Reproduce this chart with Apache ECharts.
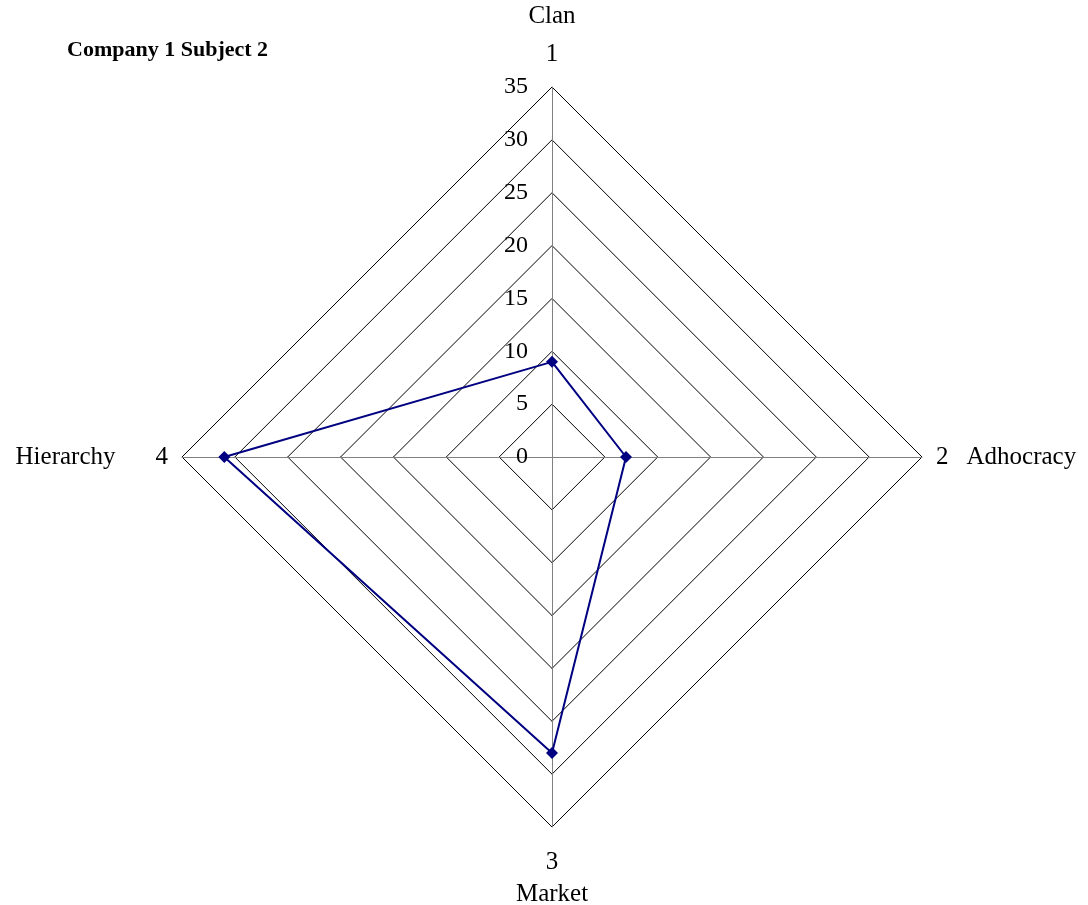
<!DOCTYPE html>
<html>
<head>
<meta charset="utf-8">
<script src="https://cdn.jsdelivr.net/npm/echarts@6/dist/echarts.min.js"></script>
<style>
  html, body { margin: 0; padding: 0; background: #fff; }
  #chart { width: 1088px; height: 905px; }
</style>
</head>
<body>
<div id="chart"></div>
<script>
// data (clockwise from the top)
var categories = ["Clan", "Adhocracy", "Market", "Hierarchy"];
var axisNumbers = ["1", "2", "3", "4"];
var values = [9, 7, 28, 31];
var axisMax = 35;
var seriesName = "Company 1 Subject 2";

var font = "Liberation Serif";

// echarts lays radar axes out counter-clockwise, so walk the list backwards after the first
var order = [0, 3, 2, 1];

var indicators = order.map(function (i) {
  var ind = { name: categories[i], max: axisMax, min: 0 };
  // only the upward axis carries the 0..35 labels
  if (i !== 0) {
    ind.axisLabel = { show: false };
  }
  return ind;
});
var orderedValues = order.map(function (i) {
  return values[i];
});

var chart = echarts.init(document.getElementById("chart"));
var option = {
  backgroundColor: "#fff",
  animation: false,
  title: {
    text: seriesName,
    left: 62,
    top: 34,
    textStyle: {
      fontFamily: font,
      fontWeight: "bold",
      fontSize: 22,
      color: "#000",
    },
  },
  radar: {
    center: [552, 457],
    radius: 370,
    startAngle: 90,
    shape: "polygon",
    splitNumber: 7,
    indicator: indicators,
    nameGap: 14,
    axisName: {
      color: "#000",
      fontFamily: font,
      fontSize: 25,
      formatter: function (name) {
        var i = categories.indexOf(name);
        var n = axisNumbers[i];
        if (i === 0) return "{n|" + name + "}\n{v|" + n + "}";
        if (i === 1) return "{v|" + n + "}{gap|}{n|" + name + "}";
        if (i === 2) return "{v2|" + n + "}\n{n|" + name + "}";
        return "{n|" + name + "}{gap2|}{v|" + n + "}";
      },
      rich: {
        n: { fontFamily: font, fontSize: 25, color: "#000", lineHeight: 38 },
        v: { fontFamily: font, fontSize: 25, color: "#000", lineHeight: 38 },
        v2: { fontFamily: font, fontSize: 25, color: "#000", lineHeight: 34, padding: [8, 0, 0, 0] },
        gap: { width: 18 },
        gap2: { width: 40 },
      },
    },
    axisLine: {
      show: true,
      lineStyle: { color: "#808080", width: 1 },
    },
    axisTick: { show: false },
    axisLabel: {
      show: true,
      margin: 24,
      color: "#000",
      fontFamily: font,
      fontSize: 24,
    },
    splitLine: {
      show: true,
      lineStyle: { color: "#000", width: 1 },
    },
    splitArea: { show: false },
  },
  series: [
    {
      name: seriesName,
      type: "radar",
      symbol: "diamond",
      symbolSize: 12,
      lineStyle: { color: "#000080", width: 2 },
      itemStyle: { color: "#000080" },
      data: [{ value: orderedValues, name: seriesName }],
    },
  ],
};
chart.setOption(option);
</script>
</body>
</html>
